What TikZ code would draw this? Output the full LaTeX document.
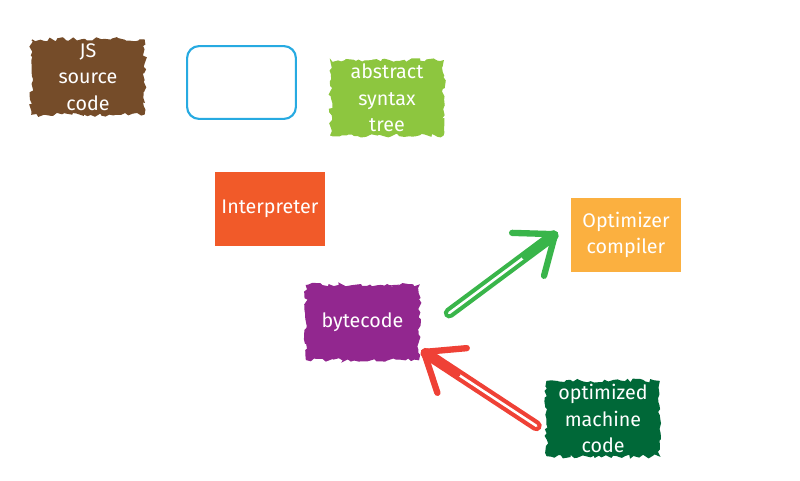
\documentclass[tikz,border=0pt]{standalone}
\usepackage{fontspec}
\setmainfont{Fira Sans}
\usetikzlibrary{arrows.meta,decorations.pathmorphing}
\definecolor{jsbrown}{HTML}{754C29}
\definecolor{parseblue}{HTML}{27AAE1}
\definecolor{astgreen}{HTML}{8DC63F}
\definecolor{interpred}{HTML}{F15A29}
\definecolor{optorange}{HTML}{FBB040}
\definecolor{bytepurple}{HTML}{92278F}
\definecolor{machgreen}{HTML}{006838}
\definecolor{hotgreen}{HTML}{39B54A}
\definecolor{deopred}{HTML}{EF4136}
\tikzset{
  boxtext/.style={text=white, align=center, inner sep=1pt, font=\fontsize{14}{19}\selectfont},
  sketchy/.style={boxtext, fill=#1, draw=#1, line width=1pt, decorate,
    decoration={random steps, segment length=2.5pt, amplitude=1.5pt},
    minimum width=2.8cm, minimum height=1.85cm},
  flat/.style={boxtext, fill=#1, minimum width=2.75cm, minimum height=1.85cm},
  fatarrow/.style={draw=#1, line width=3pt, double=white, double distance=1.8pt,
    line cap=round, shorten >=4pt,
    postaction={draw=#1, line width=4pt, line cap=round, shorten <=2.35cm, shorten >=0pt,
      -{Straight Barb[length=24pt, width=38pt, line width=4.5pt, round]}}}
}
\begin{document}
\begin{tikzpicture}[x=0.025cm, y=-0.025cm]
        \useasboundingbox (0,0) rectangle (800,480);
        \node[sketchy=jsbrown] (JS) at (88,77) {JS\\source\\code};
        \node[draw=parseblue, line width=1.5pt, rounded corners=0.3cm,
          minimum width=2.72cm, minimum height=1.82cm] (P) at (241.5,82.5) {};
        \node[sketchy=astgreen] (AST) at (387,98) {abstract\\syntax\\tree};
        \node[flat=interpred] (I) at (270,209) {Interpreter};
        \node[flat=optorange] (O) at (626,235) {Optimizer\\compiler};
        \node[sketchy=bytepurple] (B) at (362.5,322.5) {bytecode};
        \node[sketchy=machgreen] (M) at (603,418.5) {optimized\\machine\\code};

        \draw[fatarrow=hotgreen] ([shift={(30,-9.5)}]B.east) -- ([shift={(-13,-40)}]O.south west);
        \draw[fatarrow=deopred] ([shift={(-10,45)}]M.north west) -- ([shift={(2,-10)}]B.south east);
      \end{tikzpicture}
\end{document}
